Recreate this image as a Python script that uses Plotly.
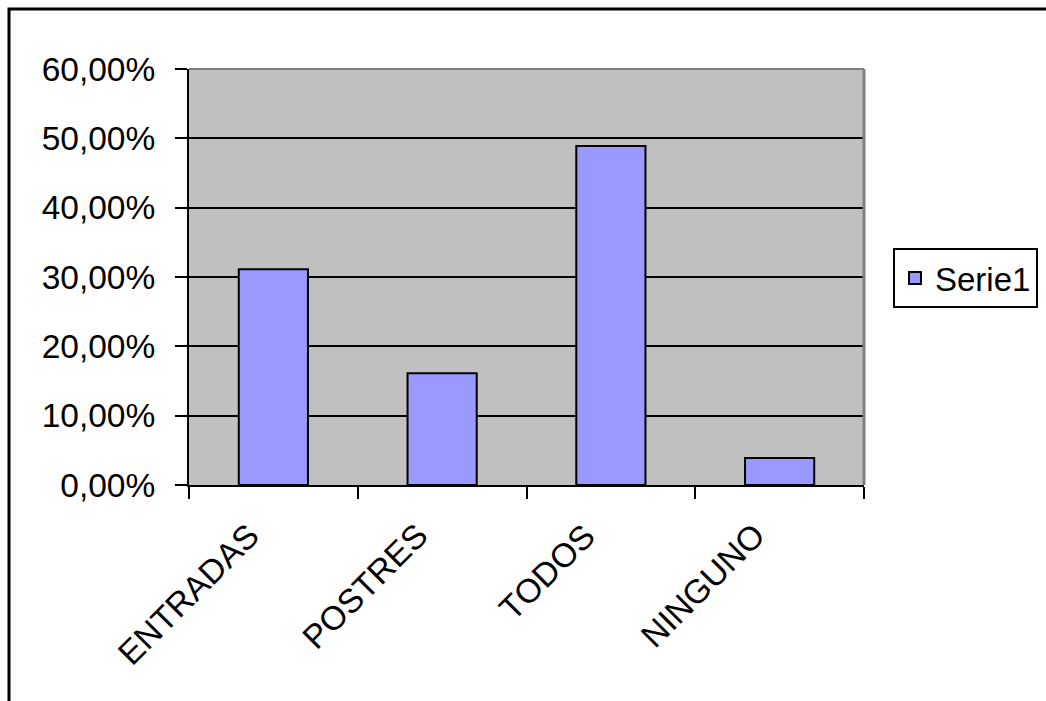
import plotly.graph_objects as go

# Category labels and series values (fractions, shown as percentages)
categorias = ["ENTRADAS", "POSTRES", "TODOS", "NINGUNO"]
serie1 = [0.311, 0.161, 0.489, 0.039]
y_ticks = [0.0, 0.1, 0.2, 0.3, 0.4, 0.5, 0.6]

FONT = "Liberation Sans, Arial, sans-serif"
FS = 33.5
W, H = 1046, 701
ML, MR, MT, MB = 189, 182, 69, 216
PW, PH = W - ML - MR, H - MT - MB


def px_x(p):
    return (p - ML) / PW


def px_y(p):
    return (H - MB - p) / PH


fig = go.Figure()
fig.add_trace(go.Bar(
    x=categorias,
    y=serie1,
    name="Serie1",
    marker=dict(color="#9999FF", line=dict(color="#000000", width=2)),
    showlegend=True,
))

shapes = [
    # outer chart frame
    dict(type="rect", xref="paper", yref="paper",
         x0=px_x(9), x1=px_x(1060), y0=px_y(715), y1=px_y(9),
         line=dict(color="#000000", width=3), layer="below"),
    # plot area border (top and right)
    dict(type="line", xref="paper", yref="paper", x0=0, x1=1, y0=1, y1=1,
         line=dict(color="#808080", width=2), layer="above"),
    dict(type="line", xref="paper", yref="paper", x0=1, x1=1, y0=0, y1=1,
         line=dict(color="#808080", width=3), layer="above"),
]

# rotated category labels below the axis
annotations = [
    dict(x=c, y=px_y(514), xref="x", yref="paper", text=c, textangle=-45,
         showarrow=False, xanchor="right", yanchor="top", xshift=-5,
         font=dict(family=FONT, size=FS, color="#000000"))
    for c in categorias
]

fig.update_layout(
    width=W, height=H,
    margin=dict(l=ML, r=MR, t=MT, b=MB, autoexpand=False),
    paper_bgcolor="#FFFFFF",
    plot_bgcolor="#C0C0C0",
    separators=", ",
    font=dict(family=FONT, size=FS, color="#000000"),
    bargap=0.59,
    shapes=shapes,
    annotations=annotations,
    legend=dict(
        x=px_x(893), y=px_y(248), xanchor="left", yanchor="top",
        bgcolor="#FFFFFF", bordercolor="#000000", borderwidth=2,
        font=dict(family=FONT, size=33, color="#000000"),
    ),
    xaxis=dict(
        range=[-0.5, len(categorias) - 0.5], autorange=False,
        showline=True, linecolor="#000000", linewidth=2,
        ticks="outside", ticklen=12, tickwidth=2, tickcolor="#000000",
        showgrid=False, showticklabels=False,
        tickson="boundaries",
    ),
    yaxis=dict(
        range=[0, 0.6], tickvals=y_ticks, tickformat=".2%",
        showline=True, linecolor="#000000", linewidth=2,
        ticks="outside", ticklen=12, tickwidth=2, tickcolor="#000000",
        showgrid=True, gridcolor="#000000", gridwidth=2,
        zeroline=False, ticklabelstandoff=13,
        tickfont=dict(family=FONT, size=FS),
    ),
)

fig.write_html("out.html")
